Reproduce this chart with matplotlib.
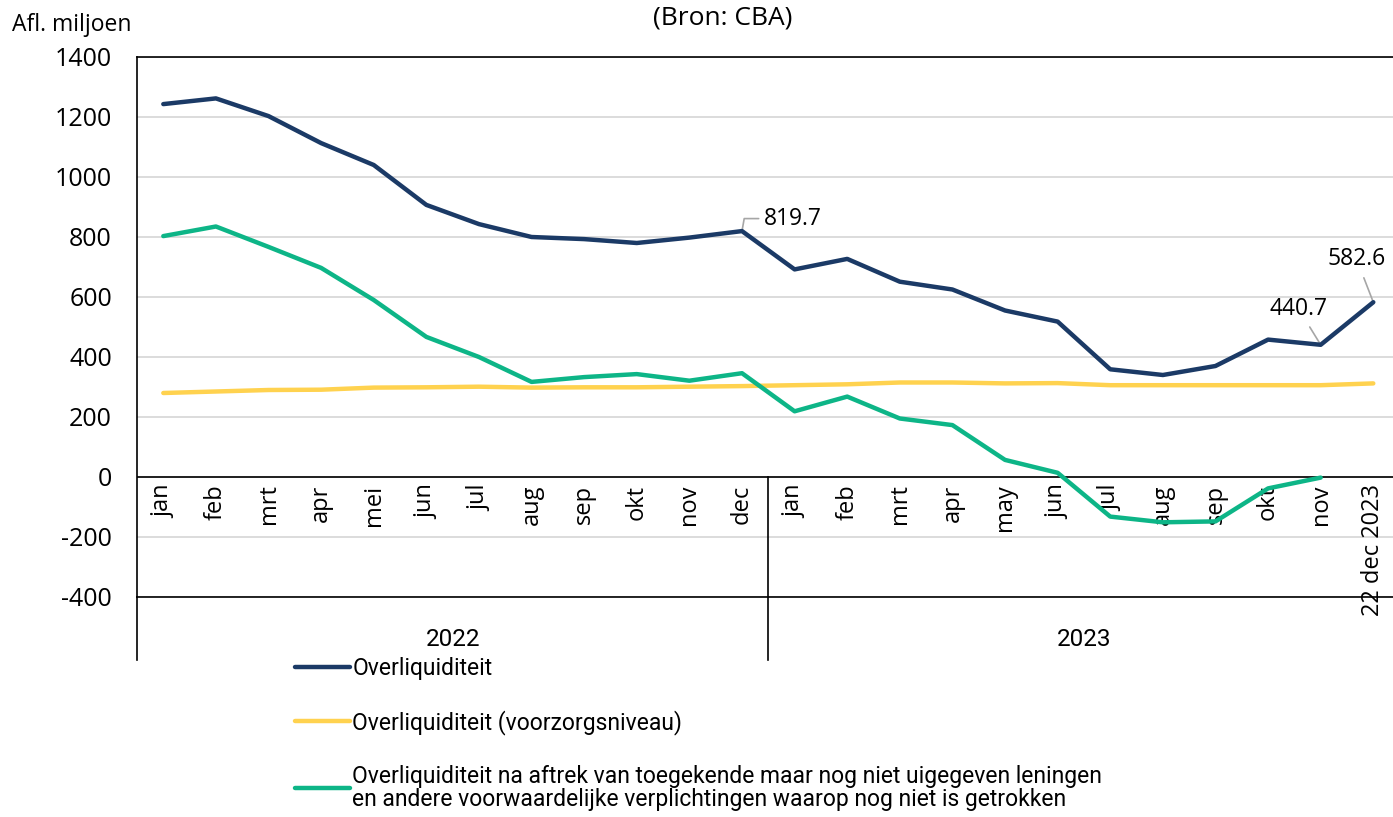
import numpy as np
import matplotlib
matplotlib.use("Agg")
import matplotlib.pyplot as plt

months_2022 = ["jan", "feb", "mrt", "apr", "mei", "jun", "jul", "aug", "sep", "okt", "nov", "dec"]
months_2023 = ["jan", "feb", "mrt", "apr", "may", "jun", "jul", "aug", "sep", "okt", "nov", "22 dec 2023"]
years = ["2022", "2023"]

overliquiditeit = [1243, 1262, 1203, 1113, 1040, 907, 843, 800, 793, 780, 798, 819.7,
                   692, 727, 651, 625, 555, 518, 359, 340, 370, 458, 440.7, 582.6]
voorzorg = [280, 285, 290, 291, 298, 299, 301, 298, 299, 299, 301, 303,
            306, 309, 315, 315, 312, 313, 306, 306, 306, 306, 306, 312]
na_aftrek = [803, 835, 767, 697, 590, 467, 400, 317, 333, 343, 321, 346,
             219, 268, 195, 173, 57, 14, -132, -151, -148, -38, -2, np.nan]

labels = [
    "Overliquiditeit",
    "Overliquiditeit (voorzorgsniveau)",
    "Overliquiditeit na aftrek van toegekende maar nog niet uigegeven leningen\n"
    "en andere voorwaardelijke verplichtingen waarop nog niet is getrokken",
]
colors = ["#1B3A66", "#FFD24F", "#0DB587"]

font_main = ["Open Sans", "DejaVu Sans"]
font_narrow = ["Roboto", "DejaVu Sans"]

plt.rcParams["font.family"] = font_main
plt.rcParams["axes.unicode_minus"] = False

fig = plt.figure(figsize=(13.93, 8.17), dpi=100)
ax = fig.add_axes([137 / 1393, 220 / 817, 1262.6 / 1393, 540 / 817])

categories = months_2022 + months_2023
x = np.arange(len(categories))

lw = 3.2
ax.plot(x, voorzorg, color=colors[1], lw=lw, solid_capstyle="round", solid_joinstyle="round",
        label=labels[1], zorder=3)
ax.plot(x, na_aftrek, color=colors[2], lw=lw, solid_capstyle="round", solid_joinstyle="round",
        label=labels[2], zorder=4)
ax.plot(x, overliquiditeit, color=colors[0], lw=lw, solid_capstyle="round", solid_joinstyle="round",
        label=labels[0], zorder=5)

ax.set_xlim(-0.5, len(categories) - 0.5)
ax.set_ylim(-400, 1400)
ax.set_yticks(np.arange(-400, 1401, 200))
ax.set_xticks([])
ax.tick_params(axis="y", length=0, pad=18, labelsize=18)
ax.yaxis.grid(True, color="#D9D9D9", lw=1.3)
ax.set_axisbelow(True)
ax.axhline(0, color="black", lw=1.2, zorder=2)

for side in ["top", "left", "bottom"]:
    ax.spines[side].set_color("black")
    ax.spines[side].set_linewidth(1.2)
ax.spines["right"].set_visible(False)

# category labels under the zero line
for i, lab in enumerate(categories):
    ax.text(i, -25, lab, rotation=90, ha="center", va="top", fontsize=17, clip_on=False)

# year groups and separators
y_low = -610
ax.plot([-0.5, -0.5], [-400, y_low], color="black", lw=1.2, clip_on=False)
ax.plot([11.5, 11.5], [0, y_low], color="black", lw=1.2, clip_on=False)
ax.text(5.5, -543, years[0], ha="center", va="center", fontsize=17.5, family=font_narrow)
ax.text(17.5, -543, years[1], ha="center", va="center", fontsize=17.5, family=font_narrow)

# value labels
grey = "#A6A6A6"
ax.annotate(f"{overliquiditeit[11]:.1f}", xy=(11, overliquiditeit[11]), xytext=(16, 9),
            textcoords="offset points", ha="left", va="center", fontsize=16.5,
            arrowprops=dict(arrowstyle="-", color=grey, lw=1.2, shrinkA=2, shrinkB=0,
                            connectionstyle="angle,angleA=0,angleB=80,rad=0"))
ax.annotate(f"{overliquiditeit[22]:.1f}", xy=(22, overliquiditeit[22]), xytext=(-16, 26),
            textcoords="offset points", ha="center", va="center", fontsize=16.5,
            arrowprops=dict(arrowstyle="-", color=grey, lw=1.2, shrinkA=3, shrinkB=0))
ax.annotate(f"{overliquiditeit[23]:.1f}", xy=(23, overliquiditeit[23]), xytext=(-12, 31),
            textcoords="offset points", ha="center", va="center", fontsize=16.5,
            arrowprops=dict(arrowstyle="-", color=grey, lw=1.2, shrinkA=3, shrinkB=0))

# titles
fig.text(723 / 1393, 1 - 18 / 817, "(Bron: CBA)", ha="center", va="center", fontsize=19)
fig.text(12 / 1393, 1 - 25 / 817, "Afl. miljoen", ha="left", va="center", fontsize=16.5)

# legend
handles, leg_labels = ax.get_legend_handles_labels()
order = [2, 0, 1]
leg = fig.legend([handles[k] for k in order], [leg_labels[k] for k in order],
                 loc="upper left", bbox_to_anchor=(295 / 1393, 1 - 657 / 817),
                 bbox_transform=fig.transFigure, frameon=False, borderpad=0,
                 borderaxespad=0, handlelength=2.4, handletextpad=0.1,
                 labelspacing=1.3, prop={"family": font_narrow, "size": 16.5})
for t in leg.get_texts():
    t.set_linespacing(1.0)

fig.savefig("out.png", dpi=100)
